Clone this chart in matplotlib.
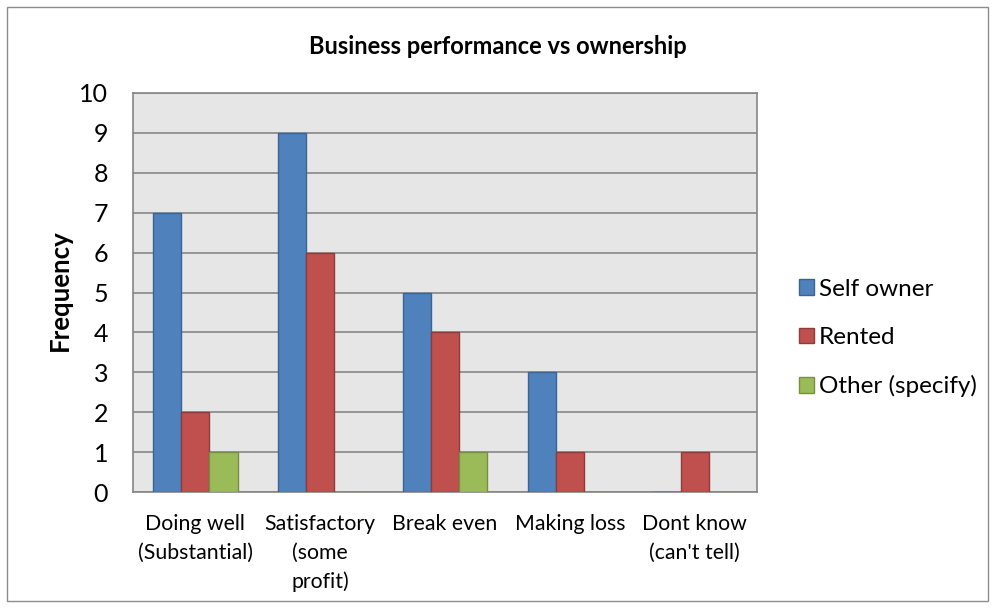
import matplotlib
matplotlib.use("Agg")
import matplotlib.pyplot as plt
from matplotlib.patches import Rectangle, Patch
import numpy as np

categories = ["Doing well\n(Substantial)", "Satisfactory\n(some\nprofit)", "Break even", "Making loss", "Dont know\n(can't tell)"]
series_names = ["Self owner", "Rented", "Other (specify)"]
self_owner = [7, 9, 5, 3, 0]
rented = [2, 6, 4, 1, 1]
other = [1, 0, 1, 0, 0]
yticks = list(range(0, 11))

colors = ["#4F81BD", "#C0504D", "#9BBB59"]
edges = ["#3A6496", "#8E3B39", "#74913F"]

plt.rcParams['font.family'] = ['Lato', 'DejaVu Sans']

fig = plt.figure(figsize=(9.95, 6.08), dpi=100)
fig.patches.append(Rectangle((7/995, 1-601/608), 981/995, 594/608, transform=fig.transFigure,
                             fill=False, edgecolor="#8C8C8C", linewidth=1.0, zorder=0))

ax = fig.add_axes([133/995, 1-492/608, 624/995, 399/608])
ax.set_facecolor("#E6E6E6")

x = np.arange(len(categories))
w = 0.225
for i, (vals, c, e, n) in enumerate(zip([self_owner, rented, other], colors, edges, series_names)):
    ax.bar(x + (i-1)*w, vals, width=w, color=c, edgecolor=e, linewidth=1.0, label=n, zorder=3)

ax.set_xlim(-0.5, len(categories)-0.5)
ax.set_ylim(0, 10)
ax.set_yticks(yticks)
ax.set_yticklabels([str(t) for t in yticks], fontsize=18)
ax.yaxis.grid(True, color="#868686", linewidth=1.2, zorder=1)
ax.set_axisbelow(True)
ax.set_xticks(x)
ax.set_xticklabels(categories, fontsize=15.3, linespacing=1.52, va="top")
ax.tick_params(axis="both", length=0)
ax.tick_params(axis="x", pad=16)
ax.tick_params(axis="y", pad=18)
for s in ax.spines.values():
    s.set_color("#868686")
    s.set_linewidth(1.2)

fig.text(60/995, 1-290/608, "Frequency", rotation=90, ha="center", va="center",
         fontsize=18.5, fontweight="bold")
fig.text(0.5, 1-47/608, "Business performance vs ownership", ha="center", va="center",
         fontsize=17, fontweight="bold")

handles = [Patch(facecolor=c, edgecolor=e, label=n) for c, e, n in zip(colors, edges, series_names)]
fig.legend(handles=handles, loc="center left", bbox_to_anchor=(799/995, 1-338/608), frameon=False,
           fontsize=17.5, handlelength=0.62, handleheight=0.62, handletextpad=0.2, labelspacing=1.12,
           borderaxespad=0, borderpad=0)

fig.savefig("out.png", dpi=100)
